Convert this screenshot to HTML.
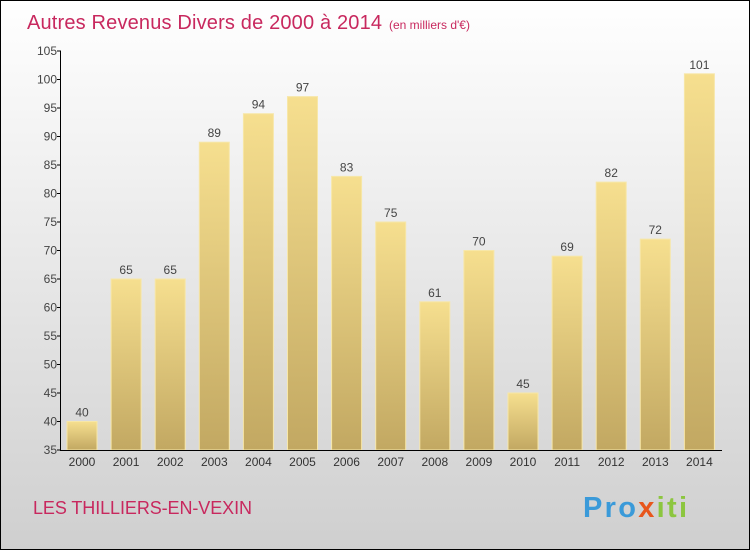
<!DOCTYPE html>
<html><head><meta charset="utf-8"><style>
html,body{margin:0;padding:0}
body{width:750px;height:550px;overflow:hidden;font-family:"Liberation Sans",sans-serif}
</style></head><body>
<svg width="750" height="550">
<defs>
<linearGradient id="bg" x1="0" y1="0" x2="0" y2="1"><stop offset="0" stop-color="#ffffff"/><stop offset="1" stop-color="#cfcfcf"/></linearGradient>
<linearGradient id="bar" x1="0" y1="0" x2="0" y2="1"><stop offset="0" stop-color="#f6df8f"/><stop offset="1" stop-color="#c2a862"/></linearGradient>
</defs>
<rect x="0.5" y="0.5" width="749" height="549" fill="url(#bg)" stroke="#000"/>
<text x="27" y="29" font-size="20" fill="#c8285e" textLength="355">Autres Revenus Divers de 2000 à 2014</text>
<text x="389" y="29" font-size="12" fill="#c8285e">(en milliers d'€)</text>
<g id="plot"></g>
<text x="33" y="514" font-size="18" fill="#c8285e" textLength="219">LES THILLIERS-EN-VEXIN</text>
<text x="583" y="517" font-size="29" font-weight="bold" fill="#3a9ad9" textLength="104">Pro<tspan fill="#e8561c">x</tspan><tspan fill="#8cc63f">iti</tspan></text>
</svg>
<script>
const years=["2000","2001","2002","2003","2004","2005","2006","2007","2008","2009","2010","2011","2012","2013","2014"];
const values=[40,65,65,89,94,97,83,75,61,70,45,69,82,72,101];
const yTicks=[35,40,45,50,55,60,65,70,75,80,85,90,95,100,105];
const NS="http://www.w3.org/2000/svg";
const g=document.getElementById('plot');
const y=v=>450-(v-35)*(399/70);
const x=i=>67+i*44.1;
function mk(t,a){const e=document.createElementNS(NS,t);for(const k in a)e.setAttribute(k,a[k]);g.appendChild(e);return e;}
values.forEach((v,i)=>{
 const r=mk('rect',{x:x(i),y:y(v),width:30,height:450-y(v),fill:'url(#bar)',stroke:'#f7e7a8','stroke-width':1});
 
 
 const t=mk('text',{x:x(i)+15,y:y(v)-5,'font-size':12,fill:'#444','text-anchor':'middle'});t.textContent=v;
 
 
 const l=mk('text',{x:x(i)+15,y:466,'font-size':12,fill:'#333','text-anchor':'middle'});l.textContent=years[i];
 
 
});
yTicks.forEach(v=>{
 mk('line',{x1:57,x2:61,y1:y(v),y2:y(v),stroke:'#000'});
 const t=mk('text',{x:57,y:y(v)+4,'font-size':12,fill:'#444','text-anchor':'end'});t.textContent=v;
 
 
});
const ax=mk('line',{x1:60.5,x2:60.5,y1:y(105),y2:450,stroke:'#000'});


const bx=mk('line',{x1:60,x2:722,y1:450.5,y2:450.5,stroke:'#000'});


</script>
</body></html>
